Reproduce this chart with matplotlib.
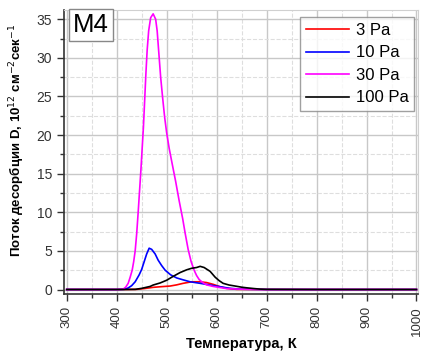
import matplotlib.pyplot as plt
from matplotlib.ticker import MultipleLocator

plt.rcParams['font.family'] = ['Liberation Sans', 'DejaVu Sans']

# данные (T, K ; поток D)
t_3 = [300, 400, 440, 455, 473, 490, 507, 520, 533, 550, 567, 580, 593, 607, 620, 640, 700, 800, 900, 1000]
d_3 = [0, 0, 0.02, 0.12, 0.28, 0.37, 0.45, 0.6, 0.8, 1.0, 1.0, 0.9, 0.67, 0.36, 0.15, 0.02, 0, 0, 0, 0]

t_10 = [300, 400, 415, 423, 430, 437, 445, 450, 455, 460, 465, 470, 477, 483, 490, 497, 508, 520, 533, 547, 567, 587, 607, 627, 650, 700, 800, 900, 1000]
d_10 = [0, 0, 0.02, 0.2, 0.5, 1.0, 1.9, 2.6, 3.6, 4.6, 5.35, 5.2, 4.6, 3.8, 3.1, 2.5, 1.9, 1.5, 1.25, 1.0, 0.8, 0.58, 0.36, 0.15, 0.04, 0, 0, 0, 0]

t_30 = [300, 400, 413, 418, 423, 427, 431, 434, 437, 440, 443, 446, 448.5, 451, 453.5, 456, 458.5, 461, 464, 468, 473, 478, 481, 484.5, 488, 492, 496, 500, 505, 511, 518, 525, 532, 537, 543, 549, 555, 560, 565, 572, 580, 593, 607, 620, 650, 700, 800, 900, 1000]
d_30 = [0, 0, 0.05, 0.3, 0.8, 1.6, 2.5, 3.6, 5.0, 7.2, 10.0, 13.0, 15.5, 18.3, 21.0, 24.5, 28.0, 31.0, 33.5, 35.2, 35.7, 35.0, 33.5, 30.5, 27.5, 24.8, 22.3, 20.3, 18.3, 16.3, 14.0, 11.5, 9.2, 7.3, 5.2, 3.6, 2.5, 1.8, 1.3, 0.9, 0.6, 0.4, 0.25, 0.12, 0.04, 0, 0, 0, 0]

t_100 = [300, 400, 437, 450, 467, 473, 487, 500, 513, 527, 540, 550, 560, 567, 575, 587, 597, 605, 613, 625, 637, 650, 660, 675, 687, 700, 800, 900, 1000]
d_100 = [0, 0, 0.02, 0.15, 0.4, 0.58, 0.85, 1.2, 1.7, 2.2, 2.55, 2.75, 2.85, 3.0, 2.85, 2.35, 1.6, 1.15, 0.8, 0.58, 0.45, 0.3, 0.22, 0.12, 0.05, 0.02, 0, 0, 0]

series = [('3 Pa', t_3, d_3, '#ff0000'),
          ('10 Pa', t_10, d_10, '#0000ff'),
          ('30 Pa', t_30, d_30, '#ff00ff'),
          ('100 Pa', t_100, d_100, '#000000')]

fig = plt.figure(figsize=(4.22, 3.53), dpi=100)
ax = fig.add_axes([0.1517, 0.1663, 0.8388, 0.8054])

for name, t, d, c in series:
    ax.plot(t, d, color=c, lw=1.2, label=name)

ax.set_xlim(294.6, 1003)
ax.set_ylim(-0.62, 36.2)
ax.xaxis.set_major_locator(MultipleLocator(100))
ax.xaxis.set_minor_locator(MultipleLocator(50))
ax.yaxis.set_major_locator(MultipleLocator(5))
ax.yaxis.set_minor_locator(MultipleLocator(2.5))
ax.grid(which='major', color='#c8c8c8', lw=1.0)
ax.grid(which='minor', color='#dedede', lw=0.8, ls='--')
ax.set_axisbelow(True)

for s in ['top', 'right']:
    ax.spines[s].set_color('#d0d0d0')
for s in ['left', 'bottom']:
    ax.spines[s].set_color('#333333')
    ax.spines[s].set_linewidth(1.2)

ax.tick_params(which='major', direction='out', length=5, width=1, colors='#333333', labelsize=10)
ax.tick_params(which='minor', direction='out', length=3, width=1, colors='#333333')
plt.setp(ax.get_xticklabels(), rotation=90, fontsize=9.5)

ax.set_xlabel('Температура, К', fontsize=10.5, fontweight='bold')
ax.xaxis.set_label_coords(0.5, -0.15)
ax.set_ylabel('Поток десорбции D, 10$^{12}$ см$^{-2}$сек$^{-1}$', fontsize=9.5, fontweight='bold')
ax.yaxis.set_label_coords(-0.105, 0.54)

ax.text(0.025, 0.99, 'M4', transform=ax.transAxes, fontsize=18.5, va='top', ha='left',
        bbox=dict(boxstyle='square,pad=0.15', fc='white', ec='#888888', lw=1))

leg = ax.legend(loc='upper right', bbox_to_anchor=(0.99, 0.975), fontsize=12, frameon=True, fancybox=False,
                edgecolor='#888888', handlelength=2.6, handletextpad=0.4, labelspacing=0.45, borderpad=0.35,
                borderaxespad=0)
leg.get_frame().set_linewidth(1)

plt.savefig('out.png', dpi=100)
